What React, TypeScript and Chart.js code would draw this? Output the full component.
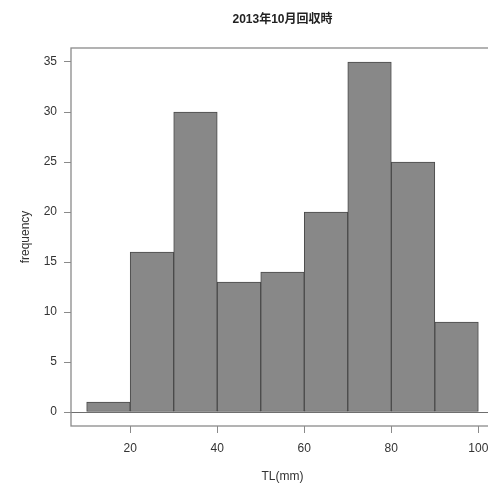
import React, { useEffect, useRef } from "react";
import { Chart, registerables } from "chart.js";

Chart.register(...registerables);

const titleText = "2013年10月回収時";
const xAxisTitle = "TL(mm)";
const yAxisTitle = "frequency";
const binStarts = [10, 20, 30, 40, 50, 60, 70, 80, 90];
const binWidth = 10;
const counts = [1, 16, 30, 13, 14, 20, 35, 25, 9];
const xTicks = [20, 40, 60, 80, 100];
const yTicks = [0, 5, 10, 15, 20, 25, 30, 35];
const xRange = [6.4, 103.6];
const yRange = [-1.4, 36.4];

const FONT = "'Liberation Sans', Arial, 'Noto Sans CJK JP', sans-serif";
const TEXT = "#333333";
const AXIS = "#8a8a8a";

const framePlugin = {
  id: "frame",
  afterDatasetsDraw(chart: any) {
    const { ctx, chartArea, scales } = chart;
    ctx.save();
    const y0 = Math.round(scales.y.getPixelForValue(0)) + 0.5;
    ctx.strokeStyle = "#6e6e6e";
    ctx.lineWidth = 1;
    ctx.beginPath();
    ctx.moveTo(chartArea.left, y0);
    ctx.lineTo(chartArea.right, y0);
    ctx.stroke();
    ctx.strokeStyle = AXIS;
    ctx.lineWidth = 1.3;
    ctx.strokeRect(chartArea.left, chartArea.top, chartArea.right - chartArea.left, chartArea.bottom - chartArea.top);
    ctx.restore();
  },
};

export default function App() {
  const ref = useRef<HTMLCanvasElement>(null);
  useEffect(() => {
    if (!ref.current) return;
    const chart = new Chart(ref.current, {
      type: "bar",
      data: {
        datasets: [
          {
            data: binStarts.map((s, i) => ({ x: s + binWidth / 2, y: counts[i] })),
            backgroundColor: "#888888",
            borderColor: "#4a4a4a",
            borderWidth: 1,
            borderSkipped: false,
            barPercentage: 1,
            categoryPercentage: 1,
          },
        ],
      },
      options: {
        responsive: false,
        animation: false,
        layout: { padding: 0 },
        plugins: {
          legend: { display: false },
          tooltip: { enabled: false },
          title: {
            display: true,
            text: titleText,
            fullSize: false,
            color: "#222",
            font: { family: FONT, size: 12, weight: "bold" },
            padding: { top: 12, bottom: 21.6 },
          },
        },
        scales: {
          x: {
            type: "linear",
            min: xRange[0],
            max: xRange[1],
            offset: false,
            afterBuildTicks: (s: any) => {
              s.ticks = xTicks.map((v) => ({ value: v }));
            },
            afterFit: (s: any) => {
              s.height = 59;
              s.paddingLeft = 0;
              s.paddingRight = 0;
            },
            grid: {
              offset: false,
              drawOnChartArea: false,
              drawTicks: true,
              tickLength: 7,
              tickColor: AXIS,
              color: AXIS,
            },
            border: { display: false },
            ticks: {
              autoSkip: false,
              maxRotation: 0,
              padding: 8,
              color: TEXT,
              font: { family: FONT, size: 12 },
            },
            title: {
              display: true,
              text: xAxisTitle,
              color: TEXT,
              font: { family: FONT, size: 12 },
              padding: { top: 0, bottom: 1 },
            },
          },
          y: {
            type: "linear",
            min: yRange[0],
            max: yRange[1],
            afterBuildTicks: (s: any) => {
              s.ticks = yTicks.map((v) => ({ value: v }));
            },
            afterFit: (s: any) => {
              s.width = 71;
              s.paddingTop = 0;
              s.paddingBottom = 0;
            },
            grid: {
              drawOnChartArea: false,
              drawTicks: true,
              tickLength: 7,
              tickColor: AXIS,
              color: AXIS,
            },
            border: { display: false },
            ticks: {
              autoSkip: false,
              padding: 7,
              color: TEXT,
              font: { family: FONT, size: 12 },
            },
            title: {
              display: true,
              text: yAxisTitle,
              color: TEXT,
              font: { family: FONT, size: 12 },
              padding: { top: 18, bottom: 0 },
            },
          },
        },
      },
      plugins: [framePlugin],
    } as any);
    return () => chart.destroy();
  }, []);
  return (
    <div
      style={{
        position: "fixed",
        left: 0,
        top: 0,
        width: 488,
        height: 485,
        overflow: "hidden",
        background: "#fff",
      }}
    >
      <canvas ref={ref} width={494} height={485} style={{ display: "block" }} />
    </div>
  );
}
